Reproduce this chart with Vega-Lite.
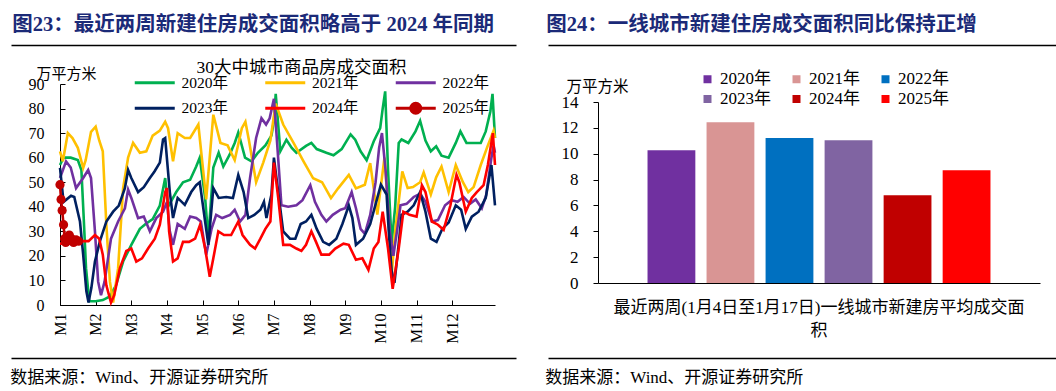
{
"$schema": "https://vega.github.io/schema/vega-lite/v6.json",
"autosize": {"type": "pad"},
"padding": {"left": 8, "top": 15, "right": 0, "bottom": 5},
"background": "white",
"config": {"font": "Liberation Serif, Noto Sans CJK SC", "view": {"stroke": null}},
"bounds": "flush",
"spacing": 0,
"resolve": {"scale": {"color": "independent", "x": "independent", "y": "independent", "xOffset": "independent"}, "legend": {"color": "independent"}},
"hconcat": [
{"vconcat": [
  {"data": {"values": [{"a": 0}]}, "mark": {"type": "point", "opacity": 0}, "encoding": {"x": {"field": "a", "type": "quantitative", "scale": {"domain": [0, 1]}, "axis": {"orient": "bottom", "domain": true, "domainColor": "#000", "domainWidth": 1.3, "ticks": false, "labels": false, "grid": false, "title": null}}}, "width": 505, "height": 1,
   "title": {"text": "图23：最近两周新建住房成交面积略高于 2024 年同期", "anchor": "start", "frame": "bounds", "fontSize": 20.5, "fontWeight": "bold", "color": "#1B2A78", "offset": 6, "dx": 4, "font": "Liberation Serif, Noto Sans CJK SC"}},
  {"data": {"values": []}, "mark": "point", "encoding": {}, "width": 1, "height": 39},
  {"hconcat": [
   {"data": {"values": []}, "mark": "point", "encoding": {}, "width": 49, "height": 1},
   {"width": 435, "height": 221,
     "title": {"text": "30大中城市商品房成交面积", "fontSize": 17.5, "fontWeight": "normal", "anchor": "middle", "dx": 24, "offset": 8, "dy": 18, "color": "#000", "font": "Liberation Serif, Noto Sans CJK SC"},
     "data": {"values": [
{"y":"2020年","m":0,"v":57},{"y":"2020年","m":0.1,"v":60},{"y":"2020年","m":0.3,"v":60},{"y":"2020年","m":0.5,"v":59},{"y":"2020年","m":0.6,"v":55},{"y":"2020年","m":0.66,"v":37},{"y":"2020年","m":0.73,"v":15},{"y":"2020年","m":0.82,"v":1.5},{"y":"2020年","m":1.0,"v":1.5},{"y":"2020年","m":1.2,"v":2},{"y":"2020年","m":1.4,"v":3.5},{"y":"2020年","m":1.57,"v":8},{"y":"2020年","m":1.77,"v":17.7},{"y":"2020年","m":2.0,"v":24.5},{"y":"2020年","m":2.24,"v":31},{"y":"2020年","m":2.4,"v":33},{"y":"2020年","m":2.6,"v":35},{"y":"2020年","m":2.8,"v":40.5},{"y":"2020年","m":2.95,"v":51.7},{"y":"2020年","m":3.03,"v":40},{"y":"2020年","m":3.26,"v":46},{"y":"2020年","m":3.45,"v":50},{"y":"2020年","m":3.65,"v":51},{"y":"2020年","m":3.82,"v":56.4},{"y":"2020年","m":3.92,"v":60},{"y":"2020年","m":4.07,"v":43.6},{"y":"2020年","m":4.16,"v":27},{"y":"2020年","m":4.3,"v":56},{"y":"2020年","m":4.45,"v":62},{"y":"2020年","m":4.58,"v":56.4},{"y":"2020年","m":4.75,"v":61},{"y":"2020年","m":4.9,"v":66},{"y":"2020年","m":5.0,"v":70.3},{"y":"2020年","m":5.19,"v":60},{"y":"2020年","m":5.37,"v":58.5},{"y":"2020年","m":5.55,"v":62},{"y":"2020年","m":5.76,"v":65},{"y":"2020年","m":5.93,"v":69},{"y":"2020年","m":6.0,"v":75},{"y":"2020年","m":6.05,"v":86},{"y":"2020年","m":6.18,"v":62.6},{"y":"2020年","m":6.35,"v":67.3},{"y":"2020年","m":6.5,"v":64},{"y":"2020年","m":6.63,"v":62},{"y":"2020年","m":6.9,"v":64.8},{"y":"2020年","m":7.05,"v":66},{"y":"2020年","m":7.2,"v":63.5},{"y":"2020年","m":7.47,"v":62},{"y":"2020年","m":7.67,"v":61},{"y":"2020年","m":7.9,"v":63.5},{"y":"2020年","m":8.15,"v":69.5},{"y":"2020年","m":8.28,"v":67.3},{"y":"2020年","m":8.43,"v":62.6},{"y":"2020年","m":8.6,"v":59},{"y":"2020年","m":8.8,"v":66.7},{"y":"2020年","m":8.98,"v":72},{"y":"2020年","m":9.05,"v":80},{"y":"2020年","m":9.12,"v":87},{"y":"2020年","m":9.2,"v":55},{"y":"2020年","m":9.3,"v":25},{"y":"2020年","m":9.4,"v":40},{"y":"2020年","m":9.5,"v":66},{"y":"2020年","m":9.58,"v":67.4},{"y":"2020年","m":9.77,"v":66},{"y":"2020年","m":9.97,"v":70.7},{"y":"2020年","m":10.1,"v":75},{"y":"2020年","m":10.25,"v":67},{"y":"2020年","m":10.4,"v":62.6},{"y":"2020年","m":10.55,"v":64.6},{"y":"2020年","m":10.7,"v":60.8},{"y":"2020年","m":10.9,"v":60},{"y":"2020年","m":11.1,"v":66},{"y":"2020年","m":11.23,"v":70.7},{"y":"2020年","m":11.4,"v":66},{"y":"2020年","m":11.6,"v":66},{"y":"2020年","m":11.8,"v":66},{"y":"2020年","m":11.94,"v":70.7},{"y":"2020年","m":12.07,"v":78.8},{"y":"2020年","m":12.13,"v":86},{"y":"2020年","m":12.2,"v":68},
{"y":"2021年","m":0,"v":62.6},{"y":"2021年","m":0.08,"v":58.5},{"y":"2021年","m":0.22,"v":70},{"y":"2021年","m":0.35,"v":68},{"y":"2021年","m":0.5,"v":64},{"y":"2021年","m":0.65,"v":55.8},{"y":"2021年","m":0.72,"v":59},{"y":"2021年","m":0.87,"v":70.5},{"y":"2021年","m":1.0,"v":72.6},{"y":"2021年","m":1.1,"v":67},{"y":"2021年","m":1.2,"v":62.6},{"y":"2021年","m":1.3,"v":32.7},{"y":"2021年","m":1.4,"v":9.5},{"y":"2021年","m":1.49,"v":1},{"y":"2021年","m":1.63,"v":15},{"y":"2021年","m":1.77,"v":47.6},{"y":"2021年","m":1.91,"v":60},{"y":"2021年","m":2.05,"v":66},{"y":"2021年","m":2.24,"v":62},{"y":"2021年","m":2.42,"v":62.6},{"y":"2021年","m":2.6,"v":69},{"y":"2021年","m":2.8,"v":71},{"y":"2021年","m":2.95,"v":74.6},{"y":"2021年","m":3.03,"v":72},{"y":"2021年","m":3.17,"v":58.5},{"y":"2021年","m":3.3,"v":70},{"y":"2021年","m":3.5,"v":68},{"y":"2021年","m":3.65,"v":68},{"y":"2021年","m":3.88,"v":73.5},{"y":"2021年","m":4.1,"v":43},{"y":"2021年","m":4.3,"v":77.5},{"y":"2021年","m":4.5,"v":66},{"y":"2021年","m":4.7,"v":65},{"y":"2021年","m":4.9,"v":59},{"y":"2021年","m":5.1,"v":72},{"y":"2021年","m":5.2,"v":74.6},{"y":"2021年","m":5.3,"v":67},{"y":"2021年","m":5.5,"v":50},{"y":"2021年","m":5.7,"v":58},{"y":"2021年","m":5.9,"v":67},{"y":"2021年","m":6.0,"v":77},{"y":"2021年","m":6.05,"v":82},{"y":"2021年","m":6.26,"v":73.5},{"y":"2021年","m":6.55,"v":66},{"y":"2021年","m":6.83,"v":58.5},{"y":"2021年","m":7.1,"v":51.6},{"y":"2021年","m":7.35,"v":50},{"y":"2021年","m":7.6,"v":43.5},{"y":"2021年","m":7.8,"v":47.5},{"y":"2021年","m":8.1,"v":53},{"y":"2021年","m":8.3,"v":47.5},{"y":"2021年","m":8.55,"v":49},{"y":"2021年","m":8.7,"v":57.8},{"y":"2021年","m":8.9,"v":36.8},{"y":"2021年","m":9.1,"v":60},{"y":"2021年","m":9.2,"v":40},{"y":"2021年","m":9.3,"v":12},{"y":"2021年","m":9.4,"v":30},{"y":"2021年","m":9.6,"v":54.4},{"y":"2021年","m":9.75,"v":47.6},{"y":"2021年","m":9.9,"v":48},{"y":"2021年","m":10.1,"v":50},{"y":"2021年","m":10.2,"v":54},{"y":"2021年","m":10.4,"v":45},{"y":"2021年","m":10.55,"v":52},{"y":"2021年","m":10.7,"v":56.4},{"y":"2021年","m":10.9,"v":46},{"y":"2021年","m":11.1,"v":57},{"y":"2021年","m":11.3,"v":50},{"y":"2021年","m":11.45,"v":46},{"y":"2021年","m":11.6,"v":48},{"y":"2021年","m":11.8,"v":57},{"y":"2021年","m":12.0,"v":65},{"y":"2021年","m":12.16,"v":71},{"y":"2021年","m":12.2,"v":68},
{"y":"2022年","m":0,"v":51.7},{"y":"2022年","m":0.17,"v":58.5},{"y":"2022年","m":0.3,"v":56},{"y":"2022年","m":0.45,"v":47.6},{"y":"2022年","m":0.65,"v":51.7},{"y":"2022年","m":0.79,"v":55},{"y":"2022年","m":0.87,"v":51.7},{"y":"2022年","m":0.98,"v":30},{"y":"2022年","m":1.07,"v":9.5},{"y":"2022年","m":1.15,"v":4},{"y":"2022年","m":1.25,"v":9.5},{"y":"2022年","m":1.43,"v":27},{"y":"2022年","m":1.63,"v":34},{"y":"2022年","m":1.82,"v":39.4},{"y":"2022年","m":1.91,"v":47},{"y":"2022年","m":2.0,"v":43.6},{"y":"2022年","m":2.19,"v":35.4},{"y":"2022年","m":2.35,"v":36},{"y":"2022年","m":2.52,"v":30},{"y":"2022年","m":2.7,"v":35.4},{"y":"2022年","m":2.89,"v":38},{"y":"2022年","m":3.0,"v":42},{"y":"2022年","m":3.08,"v":30},{"y":"2022年","m":3.17,"v":24.5},{"y":"2022年","m":3.3,"v":33},{"y":"2022年","m":3.5,"v":31},{"y":"2022年","m":3.65,"v":36},{"y":"2022年","m":3.82,"v":35.4},{"y":"2022年","m":3.95,"v":34},{"y":"2022年","m":4.1,"v":20.5},{"y":"2022年","m":4.25,"v":31},{"y":"2022年","m":4.38,"v":36.7},{"y":"2022年","m":4.55,"v":35.4},{"y":"2022年","m":4.77,"v":36.7},{"y":"2022年","m":4.9,"v":38.8},{"y":"2022年","m":5.05,"v":34},{"y":"2022年","m":5.2,"v":36.7},{"y":"2022年","m":5.33,"v":51.7},{"y":"2022年","m":5.5,"v":68},{"y":"2022年","m":5.65,"v":76.1},{"y":"2022年","m":5.78,"v":73.5},{"y":"2022年","m":5.88,"v":76},{"y":"2022年","m":6.0,"v":84},{"y":"2022年","m":6.07,"v":70},{"y":"2022年","m":6.21,"v":40.6},{"y":"2022年","m":6.4,"v":40},{"y":"2022年","m":6.63,"v":40.6},{"y":"2022年","m":6.8,"v":42.7},{"y":"2022年","m":7.02,"v":48.8},{"y":"2022年","m":7.15,"v":42},{"y":"2022年","m":7.33,"v":36.7},{"y":"2022年","m":7.47,"v":34},{"y":"2022年","m":7.65,"v":36.7},{"y":"2022年","m":7.87,"v":38.8},{"y":"2022年","m":8.0,"v":39.4},{"y":"2022年","m":8.18,"v":46},{"y":"2022年","m":8.3,"v":39.4},{"y":"2022年","m":8.43,"v":31},{"y":"2022年","m":8.55,"v":29},{"y":"2022年","m":8.7,"v":36.7},{"y":"2022年","m":8.85,"v":50},{"y":"2022年","m":8.95,"v":64},{"y":"2022年","m":9.03,"v":70},{"y":"2022年","m":9.13,"v":55},{"y":"2022年","m":9.25,"v":30},{"y":"2022年","m":9.35,"v":20},{"y":"2022年","m":9.45,"v":30},{"y":"2022年","m":9.55,"v":40.6},{"y":"2022年","m":9.72,"v":41.2},{"y":"2022年","m":9.92,"v":44},{"y":"2022年","m":10.1,"v":45.3},{"y":"2022年","m":10.25,"v":42},{"y":"2022年","m":10.43,"v":34},{"y":"2022年","m":10.6,"v":34.6},{"y":"2022年","m":10.8,"v":40.6},{"y":"2022年","m":10.98,"v":42.7},{"y":"2022年","m":11.15,"v":42},{"y":"2022年","m":11.32,"v":44},{"y":"2022年","m":11.5,"v":41.2},{"y":"2022年","m":11.66,"v":43},{"y":"2022年","m":11.83,"v":39.4},{"y":"2022年","m":11.95,"v":44.6},{"y":"2022年","m":12.1,"v":60},{"y":"2022年","m":12.16,"v":65},{"y":"2022年","m":12.2,"v":62},
{"y":"2023年","m":0,"v":55.8},{"y":"2023年","m":0.1,"v":42},{"y":"2023年","m":0.31,"v":44.5},{"y":"2023年","m":0.4,"v":44},{"y":"2023年","m":0.56,"v":34},{"y":"2023年","m":0.65,"v":20.5},{"y":"2023年","m":0.74,"v":5.6},{"y":"2023年","m":0.8,"v":1},{"y":"2023年","m":0.88,"v":7},{"y":"2023年","m":0.98,"v":17.7},{"y":"2023年","m":1.12,"v":26},{"y":"2023年","m":1.3,"v":34},{"y":"2023年","m":1.49,"v":38},{"y":"2023年","m":1.65,"v":40.5},{"y":"2023年","m":1.82,"v":47.6},{"y":"2023年","m":1.91,"v":55},{"y":"2023年","m":2.0,"v":51.7},{"y":"2023年","m":2.19,"v":46},{"y":"2023年","m":2.35,"v":48},{"y":"2023年","m":2.52,"v":51.7},{"y":"2023年","m":2.65,"v":54.4},{"y":"2023年","m":2.8,"v":58},{"y":"2023年","m":2.89,"v":67.4},{"y":"2023年","m":2.95,"v":68},{"y":"2023年","m":3.08,"v":46},{"y":"2023年","m":3.17,"v":35.4},{"y":"2023年","m":3.3,"v":43.6},{"y":"2023年","m":3.5,"v":40.8},{"y":"2023年","m":3.68,"v":46},{"y":"2023年","m":3.82,"v":48.8},{"y":"2023年","m":3.92,"v":50},{"y":"2023年","m":4.07,"v":34},{"y":"2023年","m":4.16,"v":24.5},{"y":"2023年","m":4.3,"v":47.6},{"y":"2023年","m":4.45,"v":43.6},{"y":"2023年","m":4.66,"v":44},{"y":"2023年","m":4.85,"v":43.6},{"y":"2023年","m":5.0,"v":53},{"y":"2023年","m":5.15,"v":46},{"y":"2023年","m":5.28,"v":35.4},{"y":"2023年","m":5.45,"v":36.7},{"y":"2023年","m":5.62,"v":38.8},{"y":"2023年","m":5.72,"v":42},{"y":"2023年","m":5.79,"v":35.4},{"y":"2023年","m":5.93,"v":45},{"y":"2023年","m":6.0,"v":60},{"y":"2023年","m":6.12,"v":46},{"y":"2023年","m":6.26,"v":30},{"y":"2023年","m":6.45,"v":27},{"y":"2023年","m":6.6,"v":27},{"y":"2023年","m":6.75,"v":33},{"y":"2023年","m":6.9,"v":34},{"y":"2023年","m":7.05,"v":36.7},{"y":"2023年","m":7.2,"v":31},{"y":"2023年","m":7.38,"v":25.7},{"y":"2023年","m":7.55,"v":24.5},{"y":"2023年","m":7.75,"v":27},{"y":"2023年","m":7.92,"v":33},{"y":"2023年","m":8.1,"v":40.5},{"y":"2023年","m":8.2,"v":35.4},{"y":"2023年","m":8.3,"v":24.5},{"y":"2023年","m":8.5,"v":27},{"y":"2023年","m":8.7,"v":33},{"y":"2023年","m":8.85,"v":41},{"y":"2023年","m":9.0,"v":49},{"y":"2023年","m":9.16,"v":45},{"y":"2023年","m":9.22,"v":30},{"y":"2023年","m":9.3,"v":14},{"y":"2023年","m":9.38,"v":9},{"y":"2023年","m":9.5,"v":25},{"y":"2023年","m":9.58,"v":36.7},{"y":"2023年","m":9.75,"v":38},{"y":"2023年","m":9.92,"v":40.6},{"y":"2023年","m":10.1,"v":46},{"y":"2023年","m":10.25,"v":38},{"y":"2023年","m":10.4,"v":27},{"y":"2023年","m":10.56,"v":25.7},{"y":"2023年","m":10.72,"v":31},{"y":"2023年","m":10.9,"v":33.6},{"y":"2023年","m":11.1,"v":40.6},{"y":"2023年","m":11.25,"v":38.8},{"y":"2023年","m":11.38,"v":31},{"y":"2023年","m":11.55,"v":36},{"y":"2023年","m":11.74,"v":38},{"y":"2023年","m":11.94,"v":43.6},{"y":"2023年","m":12.1,"v":57},{"y":"2023年","m":12.2,"v":40.6},
{"y":"2024年","m":0,"v":25},{"y":"2024年","m":0.3,"v":25},{"y":"2024年","m":0.5,"v":26},{"y":"2024年","m":0.65,"v":26},{"y":"2024年","m":0.8,"v":26},{"y":"2024年","m":0.98,"v":28.5},{"y":"2024年","m":1.1,"v":27},{"y":"2024年","m":1.2,"v":20.5},{"y":"2024年","m":1.3,"v":8},{"y":"2024年","m":1.43,"v":1},{"y":"2024年","m":1.52,"v":4},{"y":"2024年","m":1.68,"v":15},{"y":"2024年","m":1.86,"v":22},{"y":"2024年","m":2.0,"v":23},{"y":"2024年","m":2.14,"v":17.7},{"y":"2024年","m":2.3,"v":19},{"y":"2024年","m":2.47,"v":23},{"y":"2024年","m":2.66,"v":27},{"y":"2024年","m":2.8,"v":32.7},{"y":"2024年","m":2.95,"v":46},{"y":"2024年","m":3.0,"v":47.6},{"y":"2024年","m":3.06,"v":30},{"y":"2024年","m":3.17,"v":17.7},{"y":"2024年","m":3.3,"v":19},{"y":"2024年","m":3.45,"v":25.7},{"y":"2024年","m":3.62,"v":25.7},{"y":"2024年","m":3.79,"v":27},{"y":"2024年","m":3.93,"v":32.7},{"y":"2024年","m":4.07,"v":23},{"y":"2024年","m":4.2,"v":11.5},{"y":"2024年","m":4.3,"v":19},{"y":"2024年","m":4.44,"v":30},{"y":"2024年","m":4.6,"v":28.5},{"y":"2024年","m":4.8,"v":28.5},{"y":"2024年","m":5.0,"v":34},{"y":"2024年","m":5.12,"v":28.5},{"y":"2024年","m":5.33,"v":24.5},{"y":"2024年","m":5.47,"v":23},{"y":"2024年","m":5.62,"v":27},{"y":"2024年","m":5.76,"v":31},{"y":"2024年","m":5.9,"v":34},{"y":"2024年","m":6.0,"v":58},{"y":"2024年","m":6.12,"v":43.6},{"y":"2024年","m":6.26,"v":24.5},{"y":"2024年","m":6.45,"v":24.5},{"y":"2024年","m":6.63,"v":23},{"y":"2024年","m":6.77,"v":22},{"y":"2024年","m":6.9,"v":24.5},{"y":"2024年","m":7.05,"v":30},{"y":"2024年","m":7.18,"v":25.7},{"y":"2024年","m":7.33,"v":20.5},{"y":"2024年","m":7.55,"v":20.5},{"y":"2024年","m":7.72,"v":23},{"y":"2024年","m":7.95,"v":25},{"y":"2024年","m":8.1,"v":24.5},{"y":"2024年","m":8.3,"v":18.4},{"y":"2024年","m":8.48,"v":19},{"y":"2024年","m":8.65,"v":14.3},{"y":"2024年","m":8.8,"v":23},{"y":"2024年","m":8.93,"v":25.7},{"y":"2024年","m":9.05,"v":38},{"y":"2024年","m":9.2,"v":23},{"y":"2024年","m":9.33,"v":6.6},{"y":"2024年","m":9.5,"v":23},{"y":"2024年","m":9.63,"v":38},{"y":"2024年","m":9.8,"v":36.7},{"y":"2024年","m":10.0,"v":36},{"y":"2024年","m":10.15,"v":48.8},{"y":"2024年","m":10.25,"v":46},{"y":"2024年","m":10.43,"v":34},{"y":"2024年","m":10.6,"v":32.7},{"y":"2024年","m":10.76,"v":30.6},{"y":"2024年","m":10.95,"v":40.6},{"y":"2024年","m":11.12,"v":53},{"y":"2024年","m":11.2,"v":50},{"y":"2024年","m":11.38,"v":38},{"y":"2024年","m":11.55,"v":43.6},{"y":"2024年","m":11.69,"v":46},{"y":"2024年","m":11.88,"v":48.8},{"y":"2024年","m":12.0,"v":57},{"y":"2024年","m":12.14,"v":70},{"y":"2024年","m":12.2,"v":57},
{"y":"2025年","m":0,"v":49},{"y":"2025年","m":0.03,"v":43},{"y":"2025年","m":0.06,"v":38.5},{"y":"2025年","m":0.1,"v":32.7},{"y":"2025年","m":0.13,"v":27},{"y":"2025年","m":0.16,"v":25.5},{"y":"2025年","m":0.19,"v":26},{"y":"2025年","m":0.23,"v":28},{"y":"2025年","m":0.26,"v":28.5},{"y":"2025年","m":0.32,"v":27},{"y":"2025年","m":0.38,"v":25.5},{"y":"2025年","m":0.45,"v":26.5},{"y":"2025年","m":0.52,"v":26}
     ]},
     "encoding": {
       "x": {"field": "m", "type": "quantitative", "scale": {"domain": [0, 12.2], "nice": false, "zero": false},
             "axis": {"title": null, "values": [0,1,2,3,4,5,6,7,8,9,10,11], "labelExpr": "'M' + (datum.value + 1)", "labelAngle": 270, "tickSize": -5, "labelPadding": 13, "labelFontSize": 16, "labelColor": "#000", "domainColor": "#000", "tickColor": "#000", "grid": false, "labelFlush": false, "labelOverlap": false, "labelFont": "Liberation Serif"}},
       "y": {"field": "v", "type": "quantitative", "scale": {"domain": [0, 90], "nice": false},
             "axis": {"title": "万平方米", "titleAngle": 0, "titleAlign": "left", "titleBaseline": "middle", "titleX": -24, "titleY": -11, "titleFontSize": 15, "titleFontWeight": "normal", "titleColor": "#000", "values": [0,10,20,30,40,50,60,70,80,90], "tickSize": -5, "labelPadding": 21, "labelFontSize": 16, "labelColor": "#000", "domainColor": "#000", "tickColor": "#000", "grid": false, "labelFont": "Liberation Serif"}},
       "color": {"field": "y", "type": "nominal",
             "scale": {"domain": ["2020年","2021年","2022年","2023年","2024年","2025年"], "range": ["#00B050","#FFC000","#7030A0","#002060","#FF0000","#C00000"]},
             "legend": {"orient": "none", "legendX": 72, "legendY": -9.5, "columns": 3, "direction": "horizontal", "title": null, "symbolType": "M-1,0H7", "symbolSize": 100, "symbolStrokeWidth": 3, "labelFontSize": 15.5, "labelFont": "Liberation Serif, Noto Sans CJK SC", "labelColor": "#000", "columnPadding": 29.5, "rowPadding": 5, "labelOffset": 34,
               "encode": {"symbols": {"update": {"shape": {"signal": "datum.value === '2025年' ? 'M-1,0H7M2,0A1,1,0,1,1,4,0A1,1,0,1,1,2,0Z' : 'M-1,0H7'"}, "fill": {"signal": "datum.value === '2025年' ? '#C00000' : 'transparent'"}}}}}}
     },
     "layer": [
       {"mark": {"type": "line", "strokeWidth": 2.6}},
       {"transform": [{"filter": "datum.y === '2025年'"}], "mark": {"type": "point", "filled": true, "size": 85, "opacity": 1}}
     ]}
  ], "spacing": 0, "bounds": "flush", "resolve": {"scale": {"color": "independent"}, "legend": {"color": "independent"}}},
  {"data": {"values": []}, "mark": "point", "encoding": {}, "width": 1, "height": 274},
  {"data": {"values": [{"a": 0}]}, "mark": {"type": "point", "opacity": 0}, "encoding": {"x": {"field": "a", "type": "quantitative", "scale": {"domain": [0, 1]}, "axis": {"orient": "top", "domain": true, "domainColor": "#000", "domainWidth": 1.3, "ticks": false, "labels": false, "grid": false, "title": null}}}, "width": 505, "height": 1,
   "title": {"text": "数据来源：Wind、开源证券研究所", "orient": "bottom", "anchor": "start", "frame": "bounds", "fontSize": 17, "fontWeight": "normal", "color": "#000", "offset": 9, "dx": 2, "font": "Liberation Serif, Noto Sans CJK SC"}}
 ], "spacing": 0, "bounds": "flush", "resolve": {"scale": {"color": "independent"}, "legend": {"color": "independent"}}},
{"data": {"values": []}, "mark": "point", "encoding": {}, "width": 537, "height": 1},
{"vconcat": [
  {"data": {"values": [{"a": 0}]}, "mark": {"type": "point", "opacity": 0}, "encoding": {"x": {"field": "a", "type": "quantitative", "scale": {"domain": [0, 1]}, "axis": {"orient": "bottom", "domain": true, "domainColor": "#000", "domainWidth": 1.3, "ticks": false, "labels": false, "grid": false, "title": null}}}, "width": 511, "height": 1,
   "title": {"text": "图24：一线城市新建住房成交面积同比保持正增", "anchor": "start", "frame": "bounds", "fontSize": 20.5, "fontWeight": "bold", "color": "#1B2A78", "offset": 6, "dx": 1, "font": "Liberation Serif, Noto Sans CJK SC"}},
  {"data": {"values": []}, "mark": "point", "encoding": {}, "width": 1, "height": 57},
  {"hconcat": [
   {"data": {"values": []}, "mark": "point", "encoding": {}, "width": 50, "height": 1},
   {"width": 442, "height": 181,
     "data": {"values": [
       {"cat": "最近两周(1月4日至1月17日)一线城市新建房平均成交面积", "y": "2020年", "v": 10.27},
       {"cat": "最近两周(1月4日至1月17日)一线城市新建房平均成交面积", "y": "2021年", "v": 12.44},
       {"cat": "最近两周(1月4日至1月17日)一线城市新建房平均成交面积", "y": "2022年", "v": 11.22},
       {"cat": "最近两周(1月4日至1月17日)一线城市新建房平均成交面积", "y": "2023年", "v": 11.04},
       {"cat": "最近两周(1月4日至1月17日)一线城市新建房平均成交面积", "y": "2024年", "v": 6.79},
       {"cat": "最近两周(1月4日至1月17日)一线城市新建房平均成交面积", "y": "2025年", "v": 8.72}
     ]},
     "mark": {"type": "bar"},
     "encoding": {
       "x": {"field": "cat", "type": "nominal", "scale": {"paddingInner": 0, "paddingOuter": 0.124},
             "axis": {"title": null, "labelAngle": 0, "ticks": false, "labelExpr": "['最近两周(1月4日至1月17日)一线城市新建房平均成交面', '积']", "labelLimit": 2000, "labelLineHeight": 23, "labelPadding": 16, "labelBaseline": "top", "labelFontSize": 17, "labelColor": "#000", "domainColor": "#000", "labelFont": "Liberation Serif, Noto Sans CJK SC"}},
       "xOffset": {"field": "y", "type": "nominal", "scale": {"paddingInner": 0.19, "paddingOuter": 0.095}},
       "y": {"field": "v", "type": "quantitative", "scale": {"domain": [0, 14], "nice": false},
             "axis": {"title": "万平方米", "titleAngle": 0, "titleAlign": "left", "titleBaseline": "middle", "titleX": -32, "titleY": -16, "titleFontSize": 15.5, "titleFontWeight": "normal", "titleColor": "#000", "values": [0,2,4,6,8,10,12,14], "tickSize": 5, "labelPadding": 15, "labelFontSize": 17, "labelColor": "#000", "domainColor": "#000", "tickColor": "#000", "grid": false, "labelFont": "Liberation Serif"}},
       "color": {"field": "y", "type": "nominal",
             "scale": {"domain": ["2020年","2021年","2022年","2023年","2024年","2025年"], "range": ["#7030A0","#D99594","#0070C0","#8064A2","#C00000","#FF0000"]},
             "legend": {"orient": "none", "legendX": 101, "legendY": -31.5, "columns": 3, "direction": "horizontal", "title": null, "symbolType": "square", "symbolSize": 64, "symbolStrokeWidth": 0, "labelFontSize": 17, "labelFont": "Liberation Serif, Noto Sans CJK SC", "labelColor": "#000", "columnPadding": 17, "rowPadding": 2, "labelOffset": 4}}
     }}
  ], "spacing": 0, "bounds": "flush", "resolve": {"scale": {"color": "independent"}, "legend": {"color": "independent"}}},
  {"data": {"values": []}, "mark": "point", "encoding": {}, "width": 1, "height": 256},
  {"data": {"values": [{"a": 0}]}, "mark": {"type": "point", "opacity": 0}, "encoding": {"x": {"field": "a", "type": "quantitative", "scale": {"domain": [0, 1]}, "axis": {"orient": "top", "domain": true, "domainColor": "#000", "domainWidth": 1.3, "ticks": false, "labels": false, "grid": false, "title": null}}}, "width": 511, "height": 1,
   "title": {"text": "数据来源：Wind、开源证券研究所", "orient": "bottom", "anchor": "start", "frame": "bounds", "fontSize": 17, "fontWeight": "normal", "color": "#000", "offset": 9, "dx": 0, "font": "Liberation Serif, Noto Sans CJK SC"}}
 ], "spacing": 0, "bounds": "flush", "resolve": {"scale": {"color": "independent"}, "legend": {"color": "independent"}}}
]
}
